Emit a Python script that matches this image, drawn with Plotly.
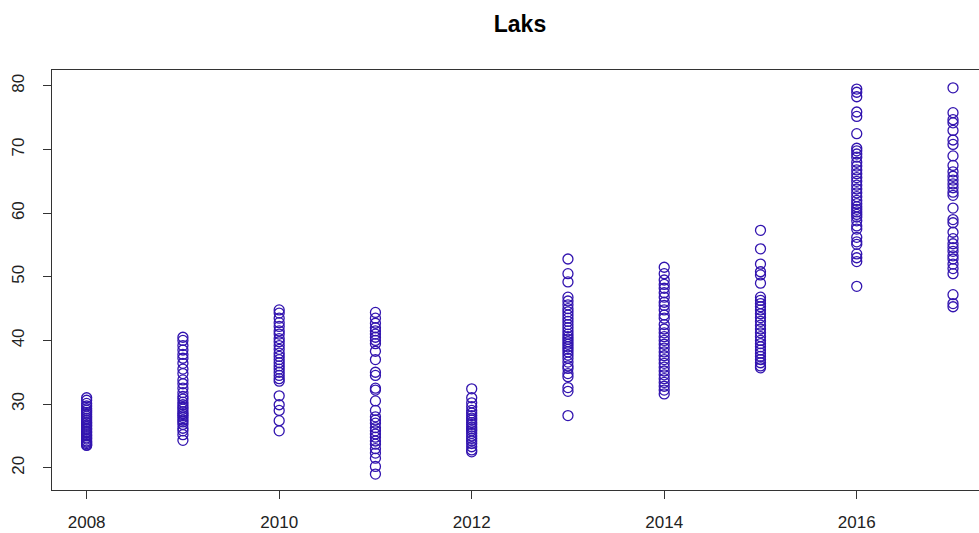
import plotly.graph_objects as go

title_text = "Laks"
x_ticks = [2008, 2010, 2012, 2014, 2016]
y_ticks = [20, 30, 40, 50, 60, 70, 80]

v2008 = [31.0, 30.6, 30.1, 29.7, 29.3, 29.0, 28.7, 28.4, 28.1, 27.8, 27.5, 27.2, 27.0, 26.7,
         26.5, 26.2, 26.0, 25.7, 25.5, 25.2, 25.0, 24.7, 24.5, 24.2, 24.0, 23.8, 23.6, 23.5]
v2009 = [40.5, 40.0, 39.2, 38.5, 37.8, 37.2, 36.4, 35.5, 34.8, 33.8, 33.2, 32.5, 31.8, 31.2,
         30.8, 30.3, 29.9, 29.5, 29.2, 28.8, 28.5, 28.2, 27.9, 27.5, 27.2, 26.8, 26.2, 25.8,
         25.2, 24.3]
v2010 = [44.8, 44.3, 43.5, 42.8, 42.2, 41.5, 41.0, 40.3, 39.8, 39.2, 38.6, 38.0, 37.5, 37.0,
         36.5, 36.0, 35.5, 35.0, 34.5, 34.0, 33.6, 31.3, 29.9, 29.0, 27.4, 25.8]
v2011 = [44.4, 43.5, 42.7, 42.0, 41.5, 41.0, 40.5, 40.0, 39.5, 38.3, 37.0, 35.0, 34.5, 32.5,
         32.2, 30.5, 29.0, 28.0, 27.5, 27.0, 26.3, 25.8, 25.3, 24.8, 24.2, 23.7, 23.0, 22.3,
         21.5, 20.2, 19.0]
v2012 = [32.4, 31.0, 30.2, 29.6, 29.0, 28.6, 28.2, 27.8, 27.5, 27.1, 26.8, 26.4, 26.1, 25.8,
         25.4, 25.0, 24.6, 24.2, 23.8, 23.3, 22.8, 22.5]
v2013 = [52.8, 50.5, 49.2, 46.8, 46.2, 45.6, 45.0, 44.5, 44.0, 43.5, 43.0, 42.5, 42.0, 41.5,
         41.0, 40.6, 40.2, 39.8, 39.4, 39.0, 38.6, 38.2, 37.7, 37.2, 36.6, 36.0, 35.6, 34.8,
         34.3, 32.6, 32.0, 28.2]
v2014 = [51.5, 50.5, 49.5, 48.8, 48.2, 47.5, 46.8, 46.0, 45.5, 44.8, 44.0, 43.5, 42.5, 41.8,
         41.2, 40.6, 40.0, 39.4, 38.8, 38.2, 37.6, 37.0, 36.4, 35.8, 35.2, 34.6, 34.0, 33.4,
         32.8, 32.2, 31.6]
v2015 = [57.3, 54.4, 52.0, 50.8, 50.3, 49.0, 46.8, 46.3, 45.8, 45.3, 44.8, 44.2, 43.6, 43.0,
         42.4, 41.8, 41.2, 40.6, 40.0, 39.5, 39.0, 38.5, 38.0, 37.5, 37.0, 36.5, 36.0, 35.7]
v2016 = [79.5, 79.0, 78.3, 75.9, 75.2, 72.5, 70.2, 69.8, 69.3, 68.8, 68.0, 67.4, 66.8, 66.2,
         65.6, 65.0, 64.4, 63.8, 63.2, 62.6, 62.0, 61.5, 61.0, 60.6, 60.2, 59.8, 59.4, 58.8,
         58.0, 57.5, 56.2, 55.5, 55.1, 53.6, 53.0, 52.4, 48.5]
v2017 = [79.7, 75.8, 74.7, 74.2, 73.0, 71.5, 70.8, 69.0, 67.5, 66.5, 65.8, 65.2, 64.6, 64.0,
         63.3, 62.8, 60.8, 59.0, 58.5, 57.0, 56.0, 55.2, 54.6, 54.0, 53.3, 52.8, 52.0, 51.3,
         50.5, 47.2, 45.8, 45.3]

years = [2008, 2009, 2010, 2011, 2012, 2013, 2014, 2015, 2016, 2017]
values = [v2008, v2009, v2010, v2011, v2012, v2013, v2014, v2015, v2016, v2017]

xs, ys = [], []
for yr, vals in zip(years, values):
    xs += [yr] * len(vals)
    ys += vals

color = "rgb(50,20,175)"
fig = go.Figure(go.Scatter(
    x=xs, y=ys, mode="markers",
    marker=dict(symbol="circle-open", size=10, color=color, line=dict(width=1.3, color=color)),
    showlegend=False,
))

font = dict(family="Liberation Sans, Arial, sans-serif", size=17, color="#222")
fig.update_layout(
    width=979, height=533,
    margin=dict(l=52, r=0, t=70, b=43),
    paper_bgcolor="white", plot_bgcolor="white",
    title=dict(text="<b>" + title_text + "</b>", x=520 / 979, xref="container", xanchor="center",
               y=1 - 24 / 533, yref="container", yanchor="middle",
               font=dict(family="Liberation Sans, Arial, sans-serif", size=23, color="black")),
    font=font,
)
fig.update_xaxes(
    range=[2007.64, 2017.27], tickvals=x_ticks, ticktext=[str(t) for t in x_ticks],
    showgrid=False, zeroline=False, showline=True, linecolor="#333", linewidth=1,
    mirror=True, ticks="outside", ticklen=8, tickcolor="#333", automargin=False,
    ticklabelstandoff=9, tickfont=font,
)
fig.update_yaxes(
    range=[16.5, 82.5], tickvals=y_ticks, ticktext=[str(t) for t in y_ticks],
    showgrid=False, zeroline=False, showline=True, linecolor="#333", linewidth=1,
    mirror=False, ticks="outside", ticklen=8, tickcolor="#333", tickangle=-90,
    automargin=False, ticklabelstandoff=12, tickfont=font,
)
fig.write_html("out.html", config={"displayModeBar": False},
               post_script="document.body.style.margin='0';document.body.style.overflow='hidden';")
